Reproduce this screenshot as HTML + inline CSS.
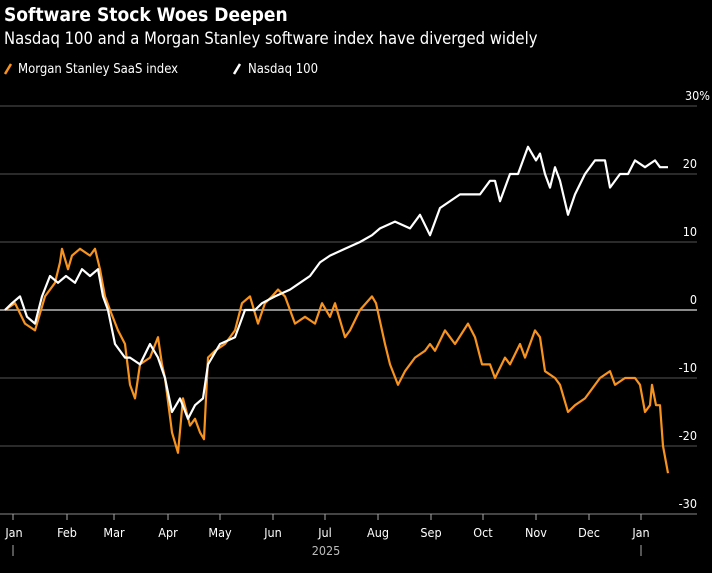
<!DOCTYPE html>
<html><head><meta charset="utf-8"><style>
html,body{margin:0;padding:0;background:#000;width:712px;height:573px;overflow:hidden}
text{font-family:"DejaVu Sans Condensed","Liberation Sans",sans-serif}
</style></head><body>
<svg width="712" height="573" viewBox="0 0 712 573" xmlns="http://www.w3.org/2000/svg">
<rect width="712" height="573" fill="#000"/>
<text x="4" y="21" fill="#fff" font-size="19" font-weight="bold">Software Stock Woes Deepen</text>
<text x="4" y="44" fill="#fff" font-size="16.5">Nasdaq 100 and a Morgan Stanley software index have diverged widely</text>
<line x1="5" y1="74" x2="11" y2="64" stroke="#f7931e" stroke-width="2.5"/>
<text x="18" y="73" fill="#fff" font-size="13">Morgan Stanley SaaS index</text>
<line x1="234" y1="74" x2="240" y2="64" stroke="#fff" stroke-width="2.5"/>
<text x="248" y="73" fill="#fff" font-size="13">Nasdaq 100</text>
<g stroke="#555" stroke-width="1">
<line x1="0" y1="106" x2="697" y2="106"/>
<line x1="0" y1="174" x2="697" y2="174"/>
<line x1="0" y1="242" x2="697" y2="242"/>
<line x1="0" y1="378" x2="697" y2="378"/>
<line x1="0" y1="446" x2="697" y2="446"/>
<line x1="0" y1="514" x2="697" y2="514" stroke="#888"/>
</g>
<line x1="0" y1="310" x2="697" y2="310" stroke="#ddd" stroke-width="1.3"/>
<g fill="#fff" font-size="12.5" text-anchor="end">
<text x="710" y="100">30%</text>
<text x="697" y="168">20</text>
<text x="697" y="236">10</text>
<text x="697" y="304">0</text>
<text x="697" y="372">-10</text>
<text x="697" y="440">-20</text>
<text x="697" y="508">-30</text>
</g>
<g stroke="#aaa" stroke-width="1">
<line x1="13" y1="514" x2="13" y2="520"/><line x1="67" y1="514" x2="67" y2="520"/><line x1="114" y1="514" x2="114" y2="520"/><line x1="168" y1="514" x2="168" y2="520"/><line x1="220" y1="514" x2="220" y2="520"/><line x1="273" y1="514" x2="273" y2="520"/><line x1="325" y1="514" x2="325" y2="520"/><line x1="378" y1="514" x2="378" y2="520"/><line x1="431" y1="514" x2="431" y2="520"/><line x1="483" y1="514" x2="483" y2="520"/><line x1="536" y1="514" x2="536" y2="520"/><line x1="589" y1="514" x2="589" y2="520"/><line x1="641" y1="514" x2="641" y2="520"/>
<line x1="13" y1="545" x2="13" y2="556"/><line x1="641" y1="545" x2="641" y2="556"/>
</g>
<g fill="#fff" font-size="12.5" text-anchor="middle">
<text x="14" y="537">Jan</text><text x="67" y="537">Feb</text><text x="114" y="537">Mar</text><text x="168" y="537">Apr</text><text x="220" y="537">May</text><text x="273" y="537">Jun</text><text x="325" y="537">Jul</text><text x="378" y="537">Aug</text><text x="431" y="537">Sep</text><text x="483" y="537">Oct</text><text x="536" y="537">Nov</text><text x="589" y="537">Dec</text><text x="641" y="537">Jan</text>
<text x="326" y="555" fill="#bbb">2025</text>
</g>
<g transform="translate(0,310) scale(1,-6.8)" fill="none" stroke-width="2.2" stroke-linejoin="round">
<polyline vector-effect="non-scaling-stroke" stroke="#f7931e" points="5,0 15,1 25,-2 35,-3 45,2 55,4 60,7 62,9 68,6 72,8 80,9 90,8 95,9 100,6 105,2 110,0 118,-3 125,-5 130,-11 135,-13 140,-8 150,-7 158,-4 162,-8 165,-10 172,-18 178,-21 183,-13 190,-17 195,-16 200,-18 204,-19 208,-7 215,-6 225,-5 235,-3 242,1 250,2 258,-2 265,1 272,2 278,3 285,2 295,-2 305,-1 315,-2 322,1 330,-1 335,1 345,-4 350,-3 360,0 372,2 376,1 385,-5 390,-8 398,-11 405,-9 415,-7 425,-6 430,-5 435,-6 445,-3 450,-4 455,-5 468,-2 475,-4 482,-8 490,-8 495,-10 505,-7 510,-8 520,-5 525,-7 535,-3 540,-4 545,-9 555,-10 560,-11 568,-15 575,-14 585,-13 590,-12 600,-10 610,-9 615,-11 625,-10 635,-10 640,-11 645,-15 650,-14 652,-11 656,-14 660,-14 663,-20 668,-24"/>
<polyline vector-effect="non-scaling-stroke" stroke="#fff" points="5,0 12,1 20,2 27,-1 35,-2 42,2 50,5 58,4 66,5 75,4 82,6 90,5 98,6 103,2 108,0 115,-5 125,-7 130,-7 140,-8 150,-5 158,-7 165,-10 172,-15 180,-13 188,-16 195,-14 203,-13 208,-8 220,-5 235,-4 245,0 255,0 262,1 275,2 290,3 300,4 310,5 320,7 330,8 345,9 360,10 372,11 380,12 395,13 410,12 420,14 430,11 440,15 460,17 470,17 480,17 490,19 495,19 500,16 510,20 518,20 528,24 536,22 540,23 545,20 550,18 555,21 560,19 568,14 575,17 585,20 595,22 605,22 610,18 620,20 628,20 635,22 645,21 655,22 660,21 668,21"/>
</g>
</svg>
</body></html>
